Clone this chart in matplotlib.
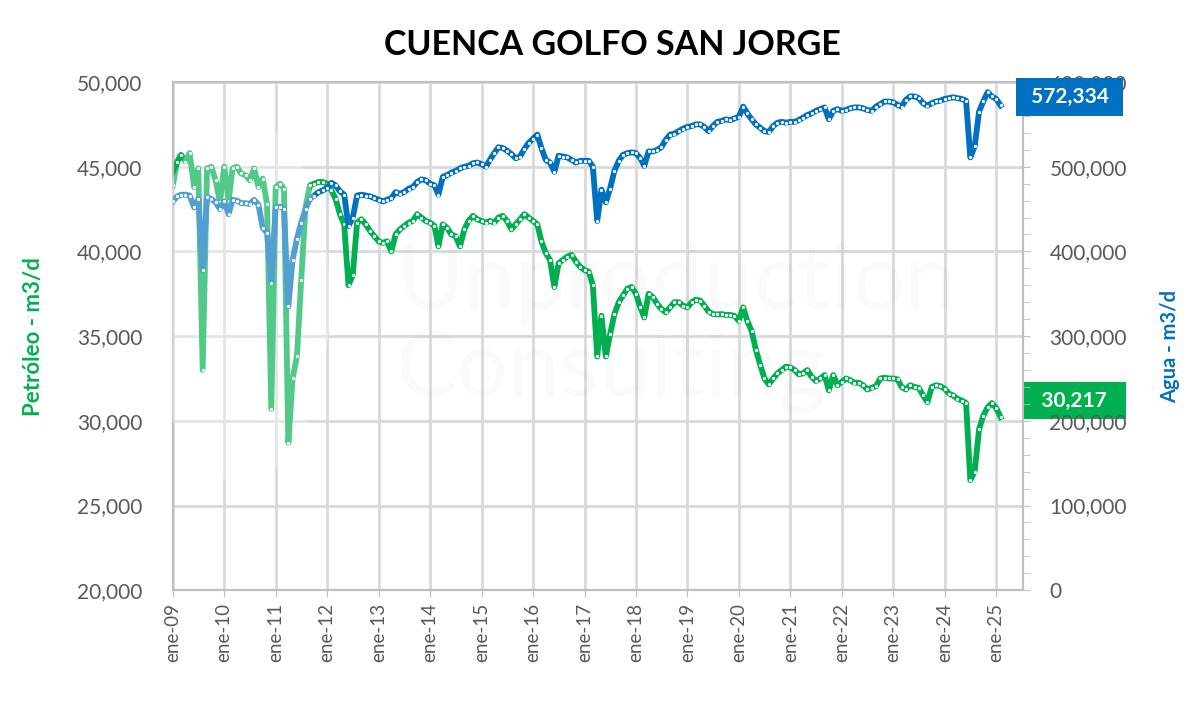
import datetime as dt
import matplotlib
matplotlib.use("Agg")
import matplotlib.pyplot as plt
import matplotlib.dates as mdates
import matplotlib.transforms as mtransforms
from matplotlib.patches import Ellipse
from matplotlib.ticker import MultipleLocator, FuncFormatter
import pandas as pd

plt.rcParams['font.family'] = ['Lato', 'DejaVu Sans']

# monthly oil production (m3/d), ene-09 .. feb-25
oil = [
    43900, 45300, 45700, 45300, 45800, 43800, 44900, 33000, 44900, 45000, 44200, 42900,  # 2009
    45000, 43000, 44900, 45000, 44600, 44500, 44200, 44900, 43800, 44300, 42800, 30700,  # 2010
    43800, 44000, 43700, 28700, 32500, 33800, 38300, 42600, 43900, 44000, 44100, 44100,  # 2011
    44000, 43600, 43100, 42200, 41600, 38000, 38600, 41700, 41900, 41600, 41200, 40900,  # 2012
    40600, 40500, 40600, 40000, 41000, 41300, 41500, 41700, 41800, 42200, 42000, 41800,  # 2013
    41700, 41500, 40300, 41600, 41400, 41000, 40900, 40300, 41300, 41800, 42100, 41900,  # 2014
    41800, 41700, 41800, 41700, 42000, 42100, 41800, 41300, 41600, 41900, 42200, 42000,  # 2015
    41800, 41600, 40600, 39900, 39500, 37900, 39300, 39500, 39700, 39800, 39400, 39100,  # 2016
    38900, 38800, 38000, 33800, 36200, 33800, 35100, 36300, 37000, 37400, 37800, 37900,  # 2017
    37500, 36700, 36100, 37500, 37300, 36900, 36600, 36400, 36700, 37000, 37000, 36800,  # 2018
    36700, 37000, 37150, 37100, 36800, 36450, 36300, 36280, 36300, 36250, 36250, 36200,  # 2019
    35900, 36700, 35900, 35300, 34200, 33300, 32500, 32150, 32500, 32800, 33000, 33200,  # 2020
    33150, 33000, 32750, 32800, 33000, 32600, 32350, 32500, 32700, 31800, 32700, 32100,  # 2021
    32300, 32500, 32400, 32250, 32250, 32100, 31850, 31950, 32050, 32500, 32550, 32500,  # 2022
    32500, 32450, 32000, 31850, 32100, 32000, 31950, 31500, 31100, 32000, 32100, 32050,  # 2023
    31900, 31600, 31500, 31300, 31200, 31050, 26500, 27000, 29500, 30300, 30800, 31050,  # 2024
    30750, 30217,                                                                        # 2025
]

# monthly water production (m3/d)
water = [
    459000, 465000, 467000, 467000, 466000, 452000, 462000, 378000, 464000, 462000, 458000, 450000,
    459000, 444000, 461000, 460000, 457000, 457000, 456000, 461000, 455000, 428000, 422000, 363000,
    452000, 453000, 450000, 335000, 390000, 415000, 434000, 450000, 462000, 466000, 470000, 472000,
    475000, 481000, 478000, 471000, 467000, 430000, 440000, 466000, 467000, 466000, 465000, 463000,
    461000, 459000, 461000, 463000, 470000, 468000, 470000, 474000, 476000, 482000, 485000, 484000,
    480000, 478000, 467000, 488000, 490000, 493000, 495000, 498000, 500000, 501000, 504000, 505000,
    503000, 500000, 508000, 516000, 523000, 522000, 519000, 515000, 510000, 512000, 521000, 528000,
    533000, 538000, 522000, 508000, 505000, 494000, 513000, 512000, 511000, 508000, 505000, 507000,
    507000, 507000, 500000, 436000, 473000, 458000, 474000, 495000, 507000, 514000, 516000, 517000,
    516000, 510000, 501000, 518000, 518000, 520000, 523000, 532000, 538000, 539000, 542000, 545000,
    547000, 548000, 550000, 550000, 547000, 542000, 548000, 553000, 554000, 556000, 555000, 557000,
    559000, 571000, 563000, 556000, 550000, 546000, 542000, 541000, 548000, 552000, 553000, 552000,
    553000, 553000, 555000, 558000, 561000, 563000, 566000, 568000, 570000, 556000, 566000, 568000,
    566000, 567000, 569000, 570000, 570000, 569000, 567000, 566000, 571000, 574000, 577000, 577000,
    576000, 573000, 571000, 579000, 583000, 583000, 581000, 575000, 572000, 575000, 577000, 578000,
    580000, 581000, 582000, 581000, 580000, 578000, 511000, 524000, 565000, 577000, 588000, 583000,
    580000, 572334,
]

dates = pd.date_range("2009-01-01", periods=len(oil), freq="MS")

GREEN = "#00B050"
BLUE = "#0070C0"
GRID = "#d9d9d9"
TXT = "#595959"

fig = plt.figure(figsize=(12, 7.01), dpi=100)
ax = fig.add_axes([0.144, 0.158, 0.7085, 0.725])
ax2 = ax.twinx()

ax.plot(dates, oil, color=GREEN, lw=4.2, marker="o", ms=2.3,
        mfc="white", mec="white", mew=0, solid_joinstyle="round", zorder=3)
ax2.plot(dates, water, color=BLUE, lw=4.2, marker="o", ms=2.3,
         mfc="white", mec="white", mew=0, solid_joinstyle="round", zorder=3)

ax.set_ylim(20000, 50000)
ax2.set_ylim(0, 600000)
ax.set_xlim(dt.date(2009, 1, 1), dt.date(2025, 7, 10))

ax.yaxis.set_major_locator(MultipleLocator(5000))
ax2.yaxis.set_major_locator(MultipleLocator(100000))
ax2.yaxis.set_minor_locator(MultipleLocator(20000))
ax.yaxis.set_major_formatter(FuncFormatter(lambda v, p: f"{v:,.0f}"))
ax2.yaxis.set_major_formatter(FuncFormatter(lambda v, p: f"{v:,.0f}"))

ax.xaxis.set_major_locator(mdates.YearLocator())
ax.xaxis.set_major_formatter(FuncFormatter(
    lambda v, p: "ene-" + mdates.num2date(v).strftime("%y")))

ax.grid(True, color=GRID, lw=2)
ax.set_axisbelow(True)

for a in (ax, ax2):
    for s in a.spines.values():
        s.set_color("#bfbfbf")
        s.set_linewidth(1.5)

ax.tick_params(axis="y", length=0, pad=22, labelsize=15, labelcolor=TXT)
ax.tick_params(axis="x", length=5, color="#bfbfbf", pad=4, labelsize=13.5,
               labelcolor=TXT, labelrotation=90)
ax2.tick_params(axis="y", which="major", length=5, color="#bfbfbf", pad=14,
                labelsize=15, labelcolor=TXT)
ax2.tick_params(axis="y", which="minor", length=5, color="#bfbfbf")

ax.set_ylabel("Petróleo - m3/d", color=GREEN, fontsize=16, fontweight="bold")
ax.yaxis.set_label_coords(-0.152, 0.5)
ax2.set_ylabel("Agua - m3/d", color=BLUE, fontsize=14.5, fontweight="bold")
ax2.yaxis.set_label_coords(1.161, 0.48)

fig.text(0.51, 0.936, "CUENCA GOLFO SAN JORGE", ha="center", va="center",
         fontsize=24.5, fontweight="bold", color="black")

# faint watermark
fig.text(0.33, 0.595, "Unproduction", fontsize=66, color="black", alpha=0.02,
         va="center", ha="left", zorder=0)
fig.text(0.33, 0.47, "Consulting", fontsize=66, color="black", alpha=0.02,
         va="center", ha="left", zorder=0)
fig.add_artist(Ellipse((0.2, 0.572), 0.15, 0.52, transform=fig.transFigure,
                       facecolor="white", edgecolor="none", alpha=0.33, zorder=5))

# last value labels
ytr = ax2.get_yaxis_transform()
ax2.text(1.055, water[-1], f" {water[-1]:,.0f} ",
         transform=mtransforms.offset_copy(ytr, fig=fig, y=6, units="points"),
         ha="center", va="center", fontsize=15, fontweight="bold", color="white",
         bbox=dict(boxstyle="square,pad=0.45", fc=BLUE, ec="none"),
         clip_on=False, zorder=10)
ytr1 = ax.get_yaxis_transform()
ax.text(1.06, oil[-1], f"  {oil[-1]:,.0f}  ",
        transform=mtransforms.offset_copy(ytr1, fig=fig, y=12, units="points"),
        ha="center", va="center", fontsize=15, fontweight="bold", color="white",
        bbox=dict(boxstyle="square,pad=0.42", fc=GREEN, ec="none"),
        clip_on=False, zorder=10)

fig.savefig("out.png", dpi=100, facecolor="white")
